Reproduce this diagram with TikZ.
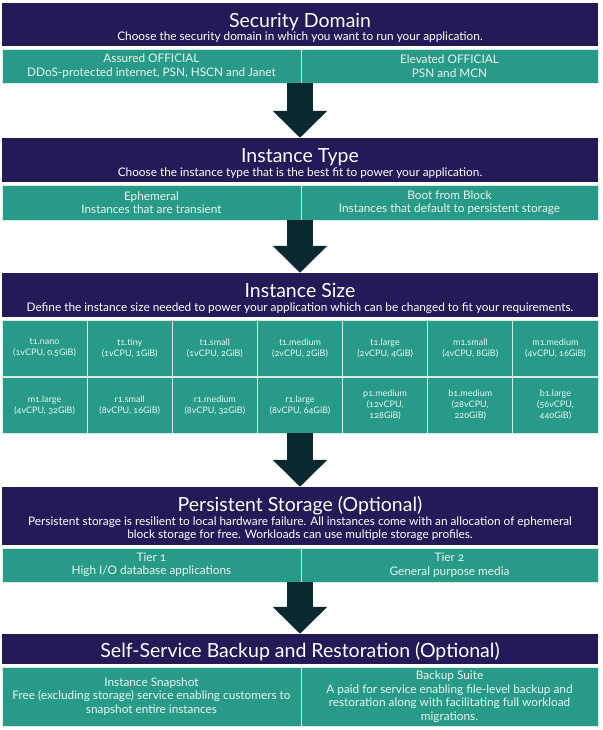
\documentclass[tikz,border=0pt]{standalone}
\usepackage{fontspec}
\setmainfont{Lato}[Numbers=OldStyle]
\usetikzlibrary{arrows.meta}
\definecolor{stagenavy}{RGB}{35,27,88}
\definecolor{stageteal}{RGB}{39,155,135}
\definecolor{arrowdark}{RGB}{10,40,48}
\definecolor{cellline}{RGB}{214,234,228}
\definecolor{celltext}{RGB}{234,245,241}
\begin{document}
\begin{tikzpicture}[x=1pt, y=-1pt,
  header/.style={fill=stagenavy, text=white, inner sep=0pt, minimum width=596pt,
    align=center, font=\fontsize{11.8}{13.5}\selectfont},
  choice/.style={fill=stageteal, draw=cellline, line width=0.8pt, text=celltext,
    inner sep=0pt, align=center, font=\fontsize{11.8}{13.5}\selectfont},
  pairline/.style={choice, execute at begin node={\rule{0pt}{12.5pt}}},
  sizecell/.style={choice, minimum width=85.14pt, minimum height=56pt,
    font=\fontsize{9}{11}\selectfont},
  flow/.style={draw=arrowdark, line width=26pt, -{Triangle[width=53pt, length=27pt]}}]
  \useasboundingbox (0,0) rectangle (602,730);
  \newcommand{\headtitle}[1]{{\fontsize{19.5}{20}\selectfont\rule{0pt}{21pt}#1}}

  % Drawing stage 1: security domain
  \node [header, minimum height=43pt] (security) at (300,24.5)
    {\headtitle{Security Domain}\\Choose the security domain in which you want to run your application.};
  \node [pairline, minimum width=299pt, minimum height=34pt] (assured) at (151.5,66)
    {Assured OFFICIAL\\DDoS-protected internet, PSN, HSCN and Janet};
  \node [pairline, minimum width=297pt, minimum height=34pt] (elevated) at (449.5,66)
    {Elevated OFFICIAL\\PSN and MCN};

  % Drawing stage 2: instance type
  \node [header, minimum height=44pt] (insttype) at (300,160)
    {\headtitle{Instance Type}\\Choose the instance type that is the best fit to power your application.};
  \node [pairline, minimum width=299pt, minimum height=35pt] (ephemeral) at (151.5,202.5)
    {Ephemeral\\Instances that are transient};
  \node [pairline, minimum width=297pt, minimum height=35pt] (bootblock) at (449.5,202.5)
    {Boot from Block\\Instances that default to persistent storage};

  % Drawing stage 3: instance size
  \node [header, minimum height=44pt] (instsize) at (300,295)
    {\headtitle{Instance Size}\\Define the instance size needed to power your application which can be changed to fit your requirements.};
  \node [sizecell] (t1nano) at (44.57,348) {t1.nano\\(1vCPU, 0.5GiB)};
  \node [sizecell] (t1tiny) at (129.71,348) {t1.tiny\\(1vCPU, 1GiB)};
  \node [sizecell] (t1small) at (214.86,348) {t1.small\\(1vCPU, 2GiB)};
  \node [sizecell] (t1medium) at (300,348) {t1.medium\\(2vCPU, 2GiB)};
  \node [sizecell] (t1large) at (385.14,348) {t1.large\\(2vCPU, 4GiB)};
  \node [sizecell] (m1small) at (470.29,348) {m1.small\\(4vCPU, 8GiB)};
  \node [sizecell] (m1medium) at (555.43,348) {m1.medium\\(4vCPU, 16GiB)};
  \node [sizecell] (m1large) at (44.57,405) {m1.large\\(4vCPU, 32GiB)};
  \node [sizecell] (r1small) at (129.71,405) {r1.small\\(8vCPU, 16GiB)};
  \node [sizecell] (r1medium) at (214.86,405) {r1.medium\\(8vCPU, 32GiB)};
  \node [sizecell] (r1large) at (300,405) {r1.large\\(8vCPU, 64GiB)};
  \node [sizecell] (p1medium) at (385.14,405) {p1.medium\\(12vCPU,\\128GiB)};
  \node [sizecell] (b1medium) at (470.29,405) {b1.medium\\(28vCPU,\\220GiB)};
  \node [sizecell] (b1large) at (555.43,405) {b1.large\\(56vCPU,\\440GiB)};

  % Drawing stage 4: persistent storage
  \node [header, minimum height=58pt] (storage) at (300,516)
    {\headtitle{Persistent Storage (Optional)}\\Persistent storage is resilient to local hardware failure. All instances come with an allocation of ephemeral\\block storage for free. Workloads can use multiple storage profiles.};
  \node [pairline, minimum width=299pt, minimum height=34pt] (tierone) at (151.5,565)
    {Tier 1\\High I/O database applications};
  \node [pairline, minimum width=297pt, minimum height=34pt] (tiertwo) at (449.5,565)
    {Tier 2\\General purpose media};

  % Drawing stage 5: backup and restoration
  \node [header, minimum height=30pt] (backup) at (300,649)
    {\headtitle{Self-Service Backup and Restoration (Optional)}};
  \node [choice, minimum width=299pt, minimum height=59pt] (snapshot) at (151.5,696.5)
    {Instance Snapshot\\Free (excluding storage) service enabling customers to\\snapshot entire instances};
  \node [choice, minimum width=297pt, minimum height=59pt] (suite) at (449.5,696.5)
    {Backup Suite\\A paid for service enabling file-level backup and\\restoration along with facilitating full workload\\migrations.};

  % Drawing flow arrows
  \draw [flow] (security.south |- assured.south) -- (insttype.north);
  \draw [flow] (insttype.south |- ephemeral.south) -- (instsize.north);
  \draw [flow] (r1large.south) -- (storage.north);
  \draw [flow] (storage.south |- tierone.south) -- (backup.north);
\end{tikzpicture}
\end{document}
